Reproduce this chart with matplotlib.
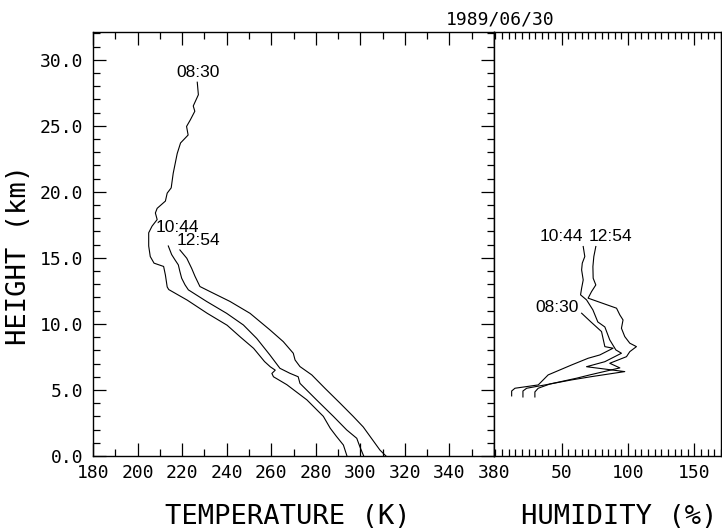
import numpy as np
import matplotlib.pyplot as plt
from matplotlib.ticker import MultipleLocator

# ---- temperature soundings (K) vs height (km) ----
z_t_0830 = [28.3, 27.35, 26.5, 26.1, 25.45, 24.95, 24.3, 23.7, 22.9, 21.4, 20.3,
            19.9, 19.3, 18.75, 18.4, 17.9, 17.4, 16.9, 15.9, 15.1, 14.6, 14.35,
            13.7, 12.8, 12.6, 11.8, 10.8, 9.9, 9.0, 8.15, 7.15, 6.75, 6.5, 6.25,
            6.0, 5.4, 4.25, 3.0, 2.1, 1.5, 0.83, 0.0]
temp_0830 = [226.8, 227.3, 225.0, 225.7, 223.7, 222.0, 222.7, 219.3, 217.8, 216.0,
             215.1, 213.3, 212.5, 208.8, 208.0, 208.8, 206.5, 205.0, 205.0, 205.7,
             207.4, 211.7, 212.5, 213.3, 214.0, 222.3, 231.3, 240.2, 246.2, 252.1,
             257.0, 259.6, 261.8, 260.3, 261.0, 267.0, 276.0, 283.4, 286.5, 289.2,
             292.4, 294.0]

z_t_1044 = [15.9, 15.25, 14.85, 14.47, 13.97, 13.46, 12.96, 12.58, 11.7, 10.8,
            9.92, 8.9, 7.65, 6.64, 6.26, 6.0, 5.5, 4.24, 3.0, 1.97, 1.34, 0.7, 0.0]
temp_1044 = [213.8, 215.3, 216.8, 218.3, 219.0, 219.8, 221.3, 222.8, 231.0, 240.0,
             247.5, 253.5, 259.4, 263.9, 268.4, 272.1, 272.9, 280.4, 287.9, 293.9,
             298.4, 299.8, 301.5]

z_t_1254 = [15.6, 14.97, 14.2, 13.6, 12.83, 12.45, 11.7, 10.8, 9.55, 8.66, 7.78,
            7.27, 6.77, 6.14, 5.13, 4.0, 3.0, 2.2, 1.5, 0.45, 0.0]
temp_1254 = [219.0, 222.1, 224.3, 225.8, 228.0, 232.5, 241.5, 250.5, 259.4, 265.4,
             269.9, 270.7, 272.9, 278.2, 284.1, 290.9, 296.8, 301.3, 304.3, 308.8,
             311.5]

# ---- relative humidity (%) vs height (km) ----
z_h_0830 = [10.81, 10.15, 9.42, 8.28, 8.16, 7.65, 7.4, 6.89, 6.14, 5.38, 5.13,
            4.92, 4.55]
rh_0830 = [65.0, 72.0, 80.0, 82.5, 88.7, 78.7, 69.9, 57.4, 39.8, 32.3, 14.8,
           12.3, 12.3]

z_h_1044 = [15.86, 15.1, 14.6, 14.09, 13.33, 12.7, 12.2, 11.82, 11.06, 10.15,
            9.77, 8.79, 8.03, 7.78, 7.14, 6.76, 6.39, 6.01, 5.76, 5.38, 5.13,
            4.92, 4.47]
rh_1044 = [66.2, 67.4, 65.5, 65.0, 66.2, 65.0, 64.2, 68.7, 73.5, 77.2, 82.5,
           86.2, 90.8, 95.0, 82.5, 68.7, 97.5, 72.5, 57.4, 37.4, 23.6, 20.8, 20.8]

z_h_1254 = [15.86, 15.1, 14.34, 13.46, 12.95, 12.45, 11.95, 11.19, 10.68, 10.3,
            9.67, 9.04, 8.54, 8.28, 7.9, 7.52, 7.02, 6.67, 6.14, 5.89, 5.45, 5.13,
            4.85, 4.47]
rh_1254 = [75.7, 74.2, 73.5, 73.7, 75.7, 72.5, 69.9, 91.3, 93.8, 96.2, 95.0,
           97.5, 101.3, 106.3, 101.3, 98.8, 86.2, 93.8, 71.2, 61.2, 41.1, 32.3,
           29.8, 29.8]

temp_ticks = [180, 200, 220, 240, 260, 280, 300, 320, 340, 360]
temp_ticklabels = ["180", "200", "220", "240", "260", "280", "300", "320", "340", "380"]
height_ticks = [0, 5, 10, 15, 20, 25, 30]
rh_ticks = [50, 100, 150]

mono = "DejaVu Sans Mono"
sans = "Liberation Sans"
lw = 0.8

fig = plt.figure(figsize=(7.22, 5.29), dpi=100)
W, H = 722, 529


def box(x0, x1, y0, y1):
    # pixel box -> figure fraction
    return [x0 / W, 1 - y1 / H, (x1 - x0) / W, (y1 - y0) / H]


ax_t = fig.add_axes(box(93, 494, 32, 456))
ax_h = fig.add_axes(box(494, 721, 32, 456))

for ax in (ax_t, ax_h):
    for s in ax.spines.values():
        s.set_linewidth(1.0)
    ax.tick_params(which="both", direction="in", top=True, width=0.9,
                   labelsize=13)
    ax.tick_params(which="major", length=9.5)
    ax.tick_params(which="minor", length=5)
    for lab in ax.get_xticklabels() + ax.get_yticklabels():
        lab.set_family(mono)

# temperature panel
ax_t.plot(temp_0830, z_t_0830, color="black", lw=lw)
ax_t.plot(temp_1044, z_t_1044, color="black", lw=lw)
ax_t.plot(temp_1254, z_t_1254, color="black", lw=lw)
ax_t.set_xlim(180, 360)
ax_t.set_ylim(0, 32.1)
ax_t.set_xticks(temp_ticks)
ax_t.set_xticklabels(temp_ticklabels, family=mono, fontsize=13)
ax_t.xaxis.set_minor_locator(MultipleLocator(10))
ax_t.set_yticks(height_ticks)
ax_t.set_yticklabels([f"{v:.1f}" for v in height_ticks], family=mono, fontsize=13)
ax_t.yaxis.set_minor_locator(MultipleLocator(1))
ax_t.tick_params(axis="y", which="both", right=True, pad=7)
ax_t.tick_params(axis="x", which="both", pad=6)

# humidity panel
ax_h.plot(rh_0830, z_h_0830, color="black", lw=lw)
ax_h.plot(rh_1044, z_h_1044, color="black", lw=lw)
ax_h.plot(rh_1254, z_h_1254, color="black", lw=lw)
ax_h.set_xlim(-1, 170)
ax_h.set_ylim(0, 32.1)
ax_h.set_xticks(rh_ticks)
ax_h.set_xticklabels([str(v) for v in rh_ticks], family=mono, fontsize=13)
ax_h.xaxis.set_minor_locator(MultipleLocator(5))
ax_h.tick_params(axis="x", which="both", pad=6)
ax_h.set_yticks([])

# time labels at the top of each sounding (offsets in points)
def tag(ax, x, y, text, dx, dy):
    ax.annotate(text, (x, y), xytext=(dx * 0.72, dy * 0.72),
                textcoords="offset points", ha="center", va="center",
                family=sans, fontsize=12.5)


tag(ax_t, temp_0830[0], z_t_0830[0], "08:30", 1, 10)
tag(ax_t, temp_1044[0], z_t_1044[0], "10:44", 9, 18)
tag(ax_t, temp_1254[0], z_t_1254[0], "12:54", 19, 9)
tag(ax_h, rh_1044[0], z_h_1044[0], "10:44", -22, 10)
tag(ax_h, rh_1254[0], z_h_1254[0], "12:54", 15, 10)
tag(ax_h, rh_0830[0], z_h_0830[0], "08:30", -25, 6)

# axis titles
fig.text(288 / W, 1 - 517 / H, "TEMPERATURE (K)", family=mono, fontsize=19.5,
         ha="center", va="center")
fig.text(619 / W, 1 - 517 / H, "HUMIDITY (%)", family=mono, fontsize=19.5,
         ha="center", va="center")
fig.text(19 / W, 1 - 255 / H, "HEIGHT (km)", family=mono, fontsize=19.5,
         ha="center", va="center", rotation=90)
fig.text(500 / W, 1 - 19 / H, "1989/06/30", family=mono, fontsize=13,
         ha="center", va="center")

fig.savefig("out.png", dpi=100)
